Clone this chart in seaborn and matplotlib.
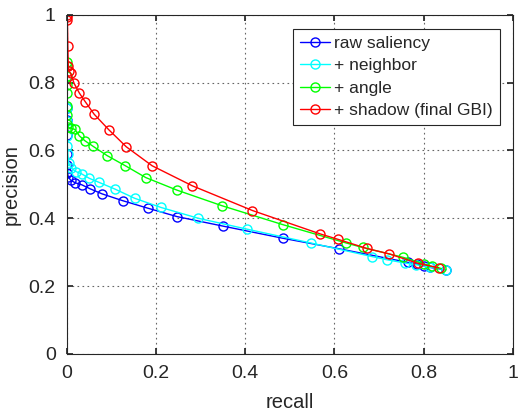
import matplotlib
matplotlib.use("Agg")
import matplotlib.pyplot as plt
import seaborn as sns
import pandas as pd

sns.set_theme(style="white")
plt.rcParams['font.family'] = ['Liberation Sans', 'DejaVu Sans']

labels = ["raw saliency", "+ neighbor", "+ angle", "+ shadow (final GBI)"]
colors = ["#0000ff", "#00ffff", "#00ff00", "#ff0000"]

raw_recall = [0, 0, 0, 0, 0, 0.001, 0.003, 0.008, 0.018, 0.033, 0.052, 0.079, 0.125,
              0.181, 0.247, 0.35, 0.485, 0.611, 0.765, 0.785, 0.80, 0.815, 0.85]
raw_precision = [0.725, 0.69, 0.645, 0.59, 0.558, 0.535, 0.523, 0.513, 0.505, 0.499, 0.487,
                 0.472, 0.452, 0.43, 0.405, 0.377, 0.341, 0.31, 0.27, 0.265, 0.26, 0.255, 0.248]

nb_recall = [0, 0, 0, 0.001, 0.002, 0.004, 0.01, 0.02, 0.033, 0.05, 0.072, 0.108, 0.152,
             0.211, 0.295, 0.404, 0.548, 0.685, 0.717, 0.759, 0.784, 0.814, 0.85]
nb_precision = [0.725, 0.688, 0.643, 0.612, 0.59, 0.562, 0.548, 0.538, 0.531, 0.518, 0.506,
                0.486, 0.459, 0.432, 0.4, 0.368, 0.327, 0.287, 0.278, 0.268, 0.263, 0.256, 0.249]

ang_recall = [0, 0, 0, 0, 0, 0, 0, 0.001, 0.003, 0.008, 0.018, 0.028, 0.04, 0.059, 0.09,
              0.131, 0.177, 0.247, 0.348, 0.485, 0.627, 0.663, 0.754, 0.80, 0.818, 0.84]
ang_precision = [0.86, 0.848, 0.82, 0.794, 0.769, 0.73, 0.705, 0.678, 0.668, 0.666, 0.662,
                 0.643, 0.629, 0.612, 0.585, 0.555, 0.52, 0.483, 0.437, 0.381, 0.327, 0.314,
                 0.285, 0.266, 0.258, 0.252]

sh_recall = [0, 0.0005, 0.001, 0.002, 0.003, 0.004, 0.008, 0.016, 0.028, 0.041, 0.061, 0.094,
             0.133, 0.191, 0.281, 0.416, 0.568, 0.608, 0.673, 0.723, 0.788, 0.834]
sh_precision = [1.0, 0.995, 0.985, 0.907, 0.85, 0.835, 0.828, 0.798, 0.769, 0.744, 0.707,
                0.661, 0.611, 0.555, 0.496, 0.423, 0.354, 0.338, 0.311, 0.295, 0.267, 0.254]

series = [(raw_recall, raw_precision), (nb_recall, nb_precision),
          (ang_recall, ang_precision), (sh_recall, sh_precision)]

x_ticks = [0, 0.2, 0.4, 0.6, 0.8, 1]
tick_labels = ["0", "0.2", "0.4", "0.6", "0.8", "1"]

fig = plt.figure(figsize=(5.19, 4.13), dpi=100)
ax = fig.add_axes([0.129, 0.143, 0.859, 0.821])

for (xs, ys), lab, col in zip(series, labels, colors):
    df = pd.DataFrame({"recall": xs, "precision": ys})
    sns.lineplot(data=df, x="recall", y="precision", sort=False, estimator=None,
                 color=col, marker="o", markersize=6.5, markerfacecolor="none",
                 markeredgecolor=col, markeredgewidth=1.0, linewidth=1.0,
                 label=lab, ax=ax)

ax.set_xlim(0, 1)
ax.set_ylim(0, 1)
ax.set_xticks(x_ticks)
ax.set_yticks(x_ticks)
ax.set_xticklabels(tick_labels)
ax.set_yticklabels(tick_labels)
ax.grid(True, linestyle=(0, (1.5, 3)), color="#666666", linewidth=0.8)
for s in ax.spines.values():
    s.set_color("#262626")
    s.set_linewidth(0.8)
ax.tick_params(axis="both", direction="in", length=4, labelsize=14, colors="#262626",
               top=True, right=True, bottom=True, left=True, pad=8)
ax.set_xlabel("recall", fontsize=14.5, color="#262626", labelpad=8)
ax.set_ylabel("precision", fontsize=14.5, color="#262626", labelpad=6)

leg = ax.legend(loc="upper right", bbox_to_anchor=(0.971, 0.959), fontsize=12.5,
                frameon=True, fancybox=False, edgecolor="#262626", framealpha=1,
                handlelength=1.75, handletextpad=0.25, borderpad=0.4, labelspacing=0.42,
                borderaxespad=0.0)
leg.get_frame().set_linewidth(0.8)

fig.savefig("out.png", dpi=100)
